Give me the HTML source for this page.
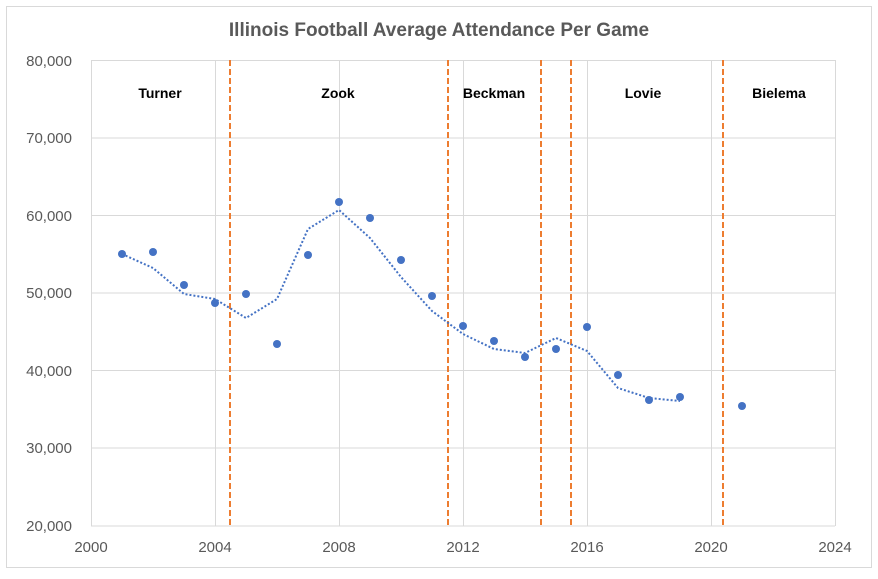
<!DOCTYPE html><html><head><style>body{margin:0;background:#fff}</style></head><body>
<svg width="878" height="574" xmlns="http://www.w3.org/2000/svg" font-family="Liberation Sans, sans-serif">
<rect x="6.5" y="6.5" width="865" height="561" fill="#fff" stroke="#d9d9d9"/>
<text x="439" y="36" text-anchor="middle" font-size="19" font-weight="bold" fill="#595959">Illinois Football Average Attendance Per Game</text>
<g stroke="#d9d9d9" stroke-width="1">
<line x1="91" y1="60.5" x2="835" y2="60.5"/><line x1="91" y1="138" x2="835" y2="138"/><line x1="91" y1="215.5" x2="835" y2="215.5"/><line x1="91" y1="293" x2="835" y2="293"/><line x1="91" y1="370.5" x2="835" y2="370.5"/><line x1="91" y1="448" x2="835" y2="448"/><line x1="91" y1="526" x2="835" y2="526"/>
<line x1="91.5" y1="60" x2="91.5" y2="526"/><line x1="215.5" y1="60" x2="215.5" y2="526"/><line x1="339.5" y1="60" x2="339.5" y2="526"/><line x1="463.5" y1="60" x2="463.5" y2="526"/><line x1="587.5" y1="60" x2="587.5" y2="526"/><line x1="711.5" y1="60" x2="711.5" y2="526"/><line x1="835.5" y1="60" x2="835.5" y2="526"/>
</g>
<g stroke="#ed7d31" stroke-width="2" stroke-dasharray="6,3">
<line x1="230" y1="60" x2="230" y2="526"/><line x1="448" y1="60" x2="448" y2="526"/><line x1="541" y1="60" x2="541" y2="526"/><line x1="571" y1="60" x2="571" y2="526"/><line x1="723" y1="60" x2="723" y2="526"/>
</g>
<g font-size="15" fill="#595959" text-anchor="end">
<text x="72" y="66">80,000</text><text x="72" y="143">70,000</text><text x="72" y="221">60,000</text><text x="72" y="298">50,000</text><text x="72" y="376">40,000</text><text x="72" y="453">30,000</text><text x="72" y="531">20,000</text>
</g>
<g font-size="15" fill="#595959" text-anchor="middle">
<text x="91" y="552">2000</text><text x="215" y="552">2004</text><text x="339" y="552">2008</text><text x="463" y="552">2012</text><text x="587" y="552">2016</text><text x="711" y="552">2020</text><text x="835" y="552">2024</text>
</g>
<g font-size="14" font-weight="bold" fill="#000" text-anchor="middle">
<text x="160" y="98">Turner</text><text x="338" y="98">Zook</text><text x="494" y="98">Beckman</text><text x="643" y="98">Lovie</text><text x="779" y="98">Bielema</text>
</g>
<polyline fill="none" stroke="#4472c4" stroke-width="2" stroke-dasharray="2,2" points="122,254 153,268 184,294 215,299 246,318 277,299 308,229 339,210 370,238 401,277 432,311 463,334 494,349 525,353 556,338 587,351 618,388 649,398 680,401"/>
<g fill="#4472c4">
<circle cx="122" cy="254" r="4"/><circle cx="153" cy="252" r="4"/><circle cx="184" cy="285" r="4"/><circle cx="215" cy="303" r="4"/><circle cx="246" cy="294" r="4"/><circle cx="277" cy="344" r="4"/><circle cx="308" cy="255" r="4"/><circle cx="339" cy="202" r="4"/><circle cx="370" cy="218" r="4"/><circle cx="401" cy="260" r="4"/><circle cx="432" cy="296" r="4"/><circle cx="463" cy="326" r="4"/><circle cx="494" cy="341" r="4"/><circle cx="525" cy="357" r="4"/><circle cx="556" cy="349" r="4"/><circle cx="587" cy="327" r="4"/><circle cx="618" cy="375" r="4"/><circle cx="649" cy="400" r="4"/><circle cx="680" cy="397" r="4"/><circle cx="742" cy="406" r="4"/>
</g>
</svg></body></html>
